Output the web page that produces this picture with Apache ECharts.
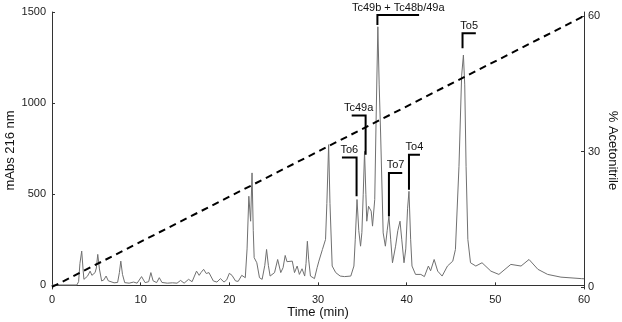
<!DOCTYPE html>
<html>
<head>
<meta charset="utf-8">
<script src="https://cdn.jsdelivr.net/npm/echarts@6/dist/echarts.min.js"></script>
<style>
  html, body { margin: 0; padding: 0; background: #fff; }
  #main { width: 622px; height: 322px; }
</style>
</head>
<body>
<div id="main"></div>
<script>
  // chromatogram (time in min, mAbs 216 nm)
  var times = [0, 2.8, 3.0, 3.15, 3.35, 3.5, 3.6, 4.0, 4.3, 4.5, 4.67, 4.86, 5.0, 5.16, 5.35, 5.6, 5.85, 6.1, 6.35, 6.55,
    7.0, 7.4, 7.6, 7.76, 7.95, 8.2, 8.7, 9.2, 9.6, 10.1, 10.5, 10.9, 11.15, 11.4, 11.8, 12.1, 12.4, 13.0, 13.6, 14.1,
    14.5, 14.9, 15.4, 15.8, 16.3, 16.6, 16.8, 17.1, 17.4, 17.7, 18.2, 18.6, 19.0, 19.4, 19.7, 20.0, 20.3, 20.7, 21.0, 21.4,
    21.8, 22.0, 22.2, 22.4, 22.56, 22.7, 22.8, 23.1, 23.4, 23.7, 24.0, 24.2, 24.4, 24.6, 25.1, 25.45, 25.8, 26.06, 26.3, 26.5,
    26.7, 27.1, 27.35, 27.65, 27.9, 28.2, 28.5, 28.65, 28.8, 28.95, 29.15, 29.6, 29.9, 30.1, 30.3, 30.5, 30.85, 31.0, 31.2, 31.35,
    31.6, 32.0, 32.2, 32.5, 33.0, 33.7, 34.05, 34.2, 34.4, 34.6, 34.8, 34.95, 35.1, 35.25, 35.4, 35.5, 35.7, 36.0, 36.15, 36.4,
    36.55, 36.75, 36.9, 37.06, 37.35, 37.6, 37.8, 38.0, 38.2, 38.4, 38.75, 39.0, 39.25, 39.45, 39.7, 39.9, 40.1, 40.26, 40.45, 40.6,
    41.0, 41.6, 42.0, 42.45, 42.7, 43.1, 43.5, 44.0, 44.6, 45.2, 45.5, 45.9, 46.2, 46.4, 46.55, 46.7, 46.9, 47.2, 47.8, 48.5,
    49.5, 50.4, 51.75, 52.9, 53.8, 54.8, 55.9, 57.4, 59.7, 60];
  var absorbance = [2, 2, 20, 120, 188, 90, 33, 50, 78, 55, 51, 70, 95, 170, 90, 24, 30, 51, 25, 15,
    14, 16, 70, 133, 60, 15, 12, 18, 12, 48, 15, 20, 70, 25, 15, 42, 16, 12, 14, 12,
    27, 12, 33, 20, 78, 55, 70, 88, 65, 70, 24, 18, 37, 18, 30, 66, 55, 24, 22, 55,
    42, 200, 489, 352, 617, 300, 152, 124, 42, 33, 110, 197, 110, 51, 70, 142, 70, 97, 164, 130,
    124, 133, 70, 106, 60, 91, 51, 120, 242, 140, 51, 37, 97, 133, 142, 197, 252, 450, 772, 450,
    106, 70, 60, 51, 48, 51, 106, 250, 471, 300, 215, 290, 500, 735, 500, 352, 434, 407, 325, 471,
    900, 1419, 1100, 836, 288, 215, 300, 379, 250, 124, 215, 300, 352, 250, 124, 200, 420, 516, 250, 106,
    60, 60, 48, 106, 80, 142, 78, 51, 106, 133, 197, 653, 1150, 1264, 1100, 653, 252, 124, 106, 124,
    78, 60, 115, 106, 142, 88, 60, 45, 37, 36];

  // gradient (% acetonitrile)
  var gradTimes = [0, 60];
  var gradPercent = [0, 60];

  // peak labels: [peak time, bracket bottom, bracket top, bracket end time]
  var peakLabels = ['Tc49b + Tc48b/49a', 'To5', 'Tc49a', 'To6', 'To7', 'To4'];
  var peakBrackets = [
    [36.7, 1429, 1483, 41.4],
    [46.3, 1301, 1383, 47.8],
    [35.37, 717, 932, 33.8],
    [34.35, 489, 702, 32.7],
    [38.0, 379, 617, 39.5],
    [40.26, 525, 717, 41.5]
  ];

  var leftTicks = [0, 500, 1000, 1500];
  var rightTicks = [0, 30, 60];

  var font = '"Liberation Sans", Arial, sans-serif';
  var axisColor = '#333';

  var chart = echarts.init(document.getElementById('main'));

  var trace = times.map(function (t, i) { return [t, absorbance[i]]; });
  var gradient = gradTimes.map(function (t, i) { return [t, gradPercent[i]]; });

  var plain = function (v) { return String(v); };

  var option = {
    animation: false,
    backgroundColor: '#fff',
    textStyle: { fontFamily: font },
    grid: { left: 52, right: 38, top: 12, bottom: 33, containLabel: false, outerBoundsMode: 'none' },
    xAxis: {
      type: 'value',
      min: 0,
      max: 60,
      interval: 10,
      name: 'Time (min)',
      nameLocation: 'middle',
      nameGap: 17,
      nameMoveOverlap: false,
      nameTextStyle: { fontSize: 13, color: '#111', fontFamily: font },
      axisLine: { lineStyle: { color: axisColor, width: 1 } },
      axisTick: { inside: true, length: 3, lineStyle: { color: axisColor } },
      axisLabel: { fontSize: 11, color: '#222', margin: 5, fontFamily: font, formatter: plain },
      splitLine: { show: false }
    },
    yAxis: [{
      type: 'value',
      min: -20,
      max: 1500,
      name: 'mAbs 216 nm',
      nameLocation: 'middle',
      nameGap: 35,
      nameMoveOverlap: false,
      nameTextStyle: { fontSize: 13, color: '#111', fontFamily: font },
      axisLine: { show: true, lineStyle: { color: axisColor, width: 1 } },
      axisTick: { show: true, inside: true, length: 3, customValues: leftTicks, lineStyle: { color: axisColor } },
      axisLabel: { fontSize: 11, color: '#222', margin: 6, customValues: leftTicks, fontFamily: font, formatter: plain },
      splitLine: { show: false }
    }, {
      type: 'value',
      position: 'right',
      min: -0.45,
      max: 60.9,
      name: '% Acetonitrile',
      nameLocation: 'middle',
      nameRotate: -90,
      nameGap: 22,
      nameMoveOverlap: false,
      nameTextStyle: { fontSize: 13, color: '#111', fontFamily: font },
      axisLine: { show: true, lineStyle: { color: axisColor, width: 1 } },
      axisTick: { show: true, inside: true, length: 3, customValues: rightTicks, lineStyle: { color: axisColor } },
      axisLabel: { fontSize: 11, color: '#222', margin: 4, customValues: rightTicks, fontFamily: font, formatter: plain },
      splitLine: { show: false }
    }],
    series: [{
      type: 'line',
      data: trace,
      yAxisIndex: 0,
      symbol: 'none',
      lineStyle: { color: '#707070', width: 1 },
      z: 2
    }, {
      type: 'line',
      data: gradient,
      yAxisIndex: 1,
      symbol: 'none',
      lineStyle: { color: '#000', width: 2, type: [7, 5] },
      z: 3
    }, {
      type: 'custom',
      yAxisIndex: 0,
      data: peakBrackets,
      encode: { x: [0, 3], y: [1, 2] },
      clip: false,
      z: 4,
      renderItem: function (params, api) {
        var p0 = api.coord([api.value(0), api.value(1)]);
        var p1 = api.coord([api.value(0), api.value(2)]);
        var p2 = api.coord([api.value(3), api.value(2)]);
        return {
          type: 'group',
          children: [{
            type: 'polyline',
            shape: { points: [p0, p1, p2] },
            style: { stroke: '#000', lineWidth: 2, fill: null, lineJoin: 'miter' }
          }, {
            type: 'text',
            x: (p1[0] + p2[0]) / 2,
            y: p1[1] - 2,
            style: {
              text: peakLabels[params.dataIndex],
              align: 'center',
              verticalAlign: 'bottom',
              fontSize: 11,
              fontFamily: font,
              fill: '#111'
            }
          }]
        };
      }
    }]
  };
  chart.setOption(option);
</script>
</body>
</html>
